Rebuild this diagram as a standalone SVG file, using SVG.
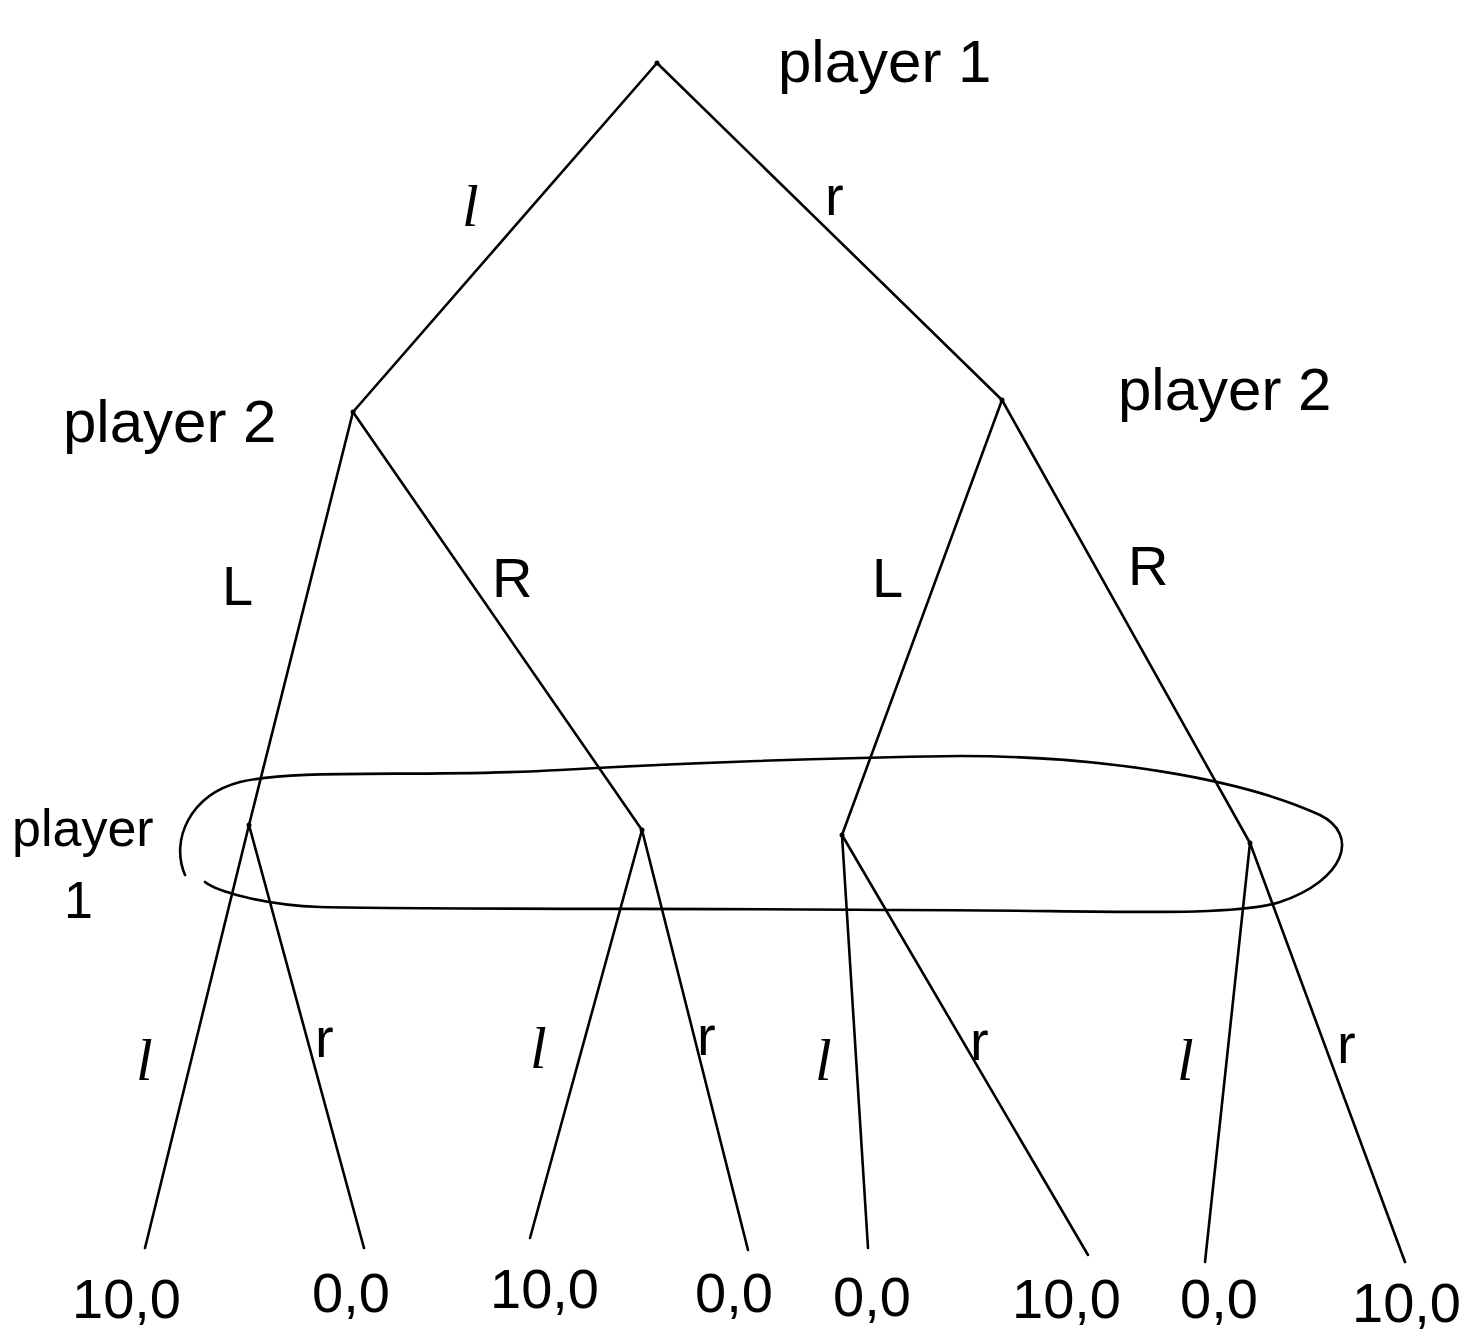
<svg xmlns="http://www.w3.org/2000/svg" width="1466" height="1338" viewBox="0 0 1466 1338">
<style>
.e{stroke:#000;stroke-width:2.6;fill:none;stroke-linecap:round}
.t{font-family:"Liberation Sans",Arial,sans-serif;fill:#000;font-size:56px}
.b{font-size:60px}
.s{font-size:52px}
.l{font-family:"Liberation Serif","Times New Roman",serif;font-style:italic;font-size:60px}
</style>
<rect width="1466" height="1338" fill="#fff"/>
<g id="connectors">
<path class="e" d="M657,63 L353,412"/>
<path class="e" d="M657,63 L1002,400"/>
<path class="e" d="M353,412 L249,825"/>
<path class="e" d="M353,412 L642,830"/>
<path class="e" d="M1002,400 L842,835"/>
<path class="e" d="M1002,400 L1250,843"/>
<path class="e" d="M249,825 L145,1248"/>
<path class="e" d="M249,825 L364,1248"/>
<path class="e" d="M642,830 L530,1238"/>
<path class="e" d="M642,830 L748,1250"/>
<path class="e" d="M842,835 L868,1248"/>
<path class="e" d="M842,835 L1088,1255"/>
<path class="e" d="M1250,843 L1205,1262"/>
<path class="e" d="M1250,843 L1405,1262"/>
</g>
<g id="infoset">
<path class="e" d="M185,875 C170,840 190,795 240,782 C300,768 420,778 560,770 C700,762 820,758 960,756 C1100,756 1240,778 1320,815 C1360,835 1345,880 1280,902 C1230,918 1100,910 900,910 C700,908 480,910 320,907 C260,905 215,890 205,882"/>
</g>
<g id="root"><circle cx="657" cy="63" r="2.5"/><text class="t b" x="778" y="82">player 1</text></g>
<g id="p2left"><circle cx="353" cy="412" r="2.5"/><text class="t b" x="63" y="442">player 2</text></g>
<g id="p2right"><circle cx="1002" cy="400" r="2.5"/><text class="t b" x="1118" y="410">player 2</text></g>
<g id="n1"><circle cx="249" cy="825" r="2.5"/></g>
<g id="n2"><circle cx="642" cy="830" r="2.5"/></g>
<g id="n3"><circle cx="842" cy="835" r="2.5"/></g>
<g id="n4"><circle cx="1250" cy="843" r="2.5"/></g>
<g id="p1label"><text class="t s" x="12" y="846">player</text><text class="t s" x="64" y="918">1</text></g>
<g id="labels">
<text class="l" x="462" y="226">l</text>
<text class="t" x="825" y="215">r</text>
<text class="t" x="222" y="605">L</text>
<text class="t" x="492" y="597">R</text>
<text class="t" x="872" y="597">L</text>
<text class="t" x="1128" y="585">R</text>
<text class="l" x="136" y="1080">l</text>
<text class="t" x="315" y="1057">r</text>
<text class="l" x="530" y="1068">l</text>
<text class="t" x="697" y="1055">r</text>
<text class="l" x="815" y="1080">l</text>
<text class="t" x="970" y="1060">r</text>
<text class="l" x="1177" y="1080">l</text>
<text class="t" x="1337" y="1063">r</text>
</g>
<g id="leaves">
<text class="t" x="72" y="1318">10,0</text>
<text class="t" x="312" y="1312">0,0</text>
<text class="t" x="490" y="1308">10,0</text>
<text class="t" x="695" y="1312">0,0</text>
<text class="t" x="833" y="1316">0,0</text>
<text class="t" x="1012" y="1318">10,0</text>
<text class="t" x="1180" y="1318">0,0</text>
<text class="t" x="1352" y="1322">10,0</text>
</g>
</svg>
